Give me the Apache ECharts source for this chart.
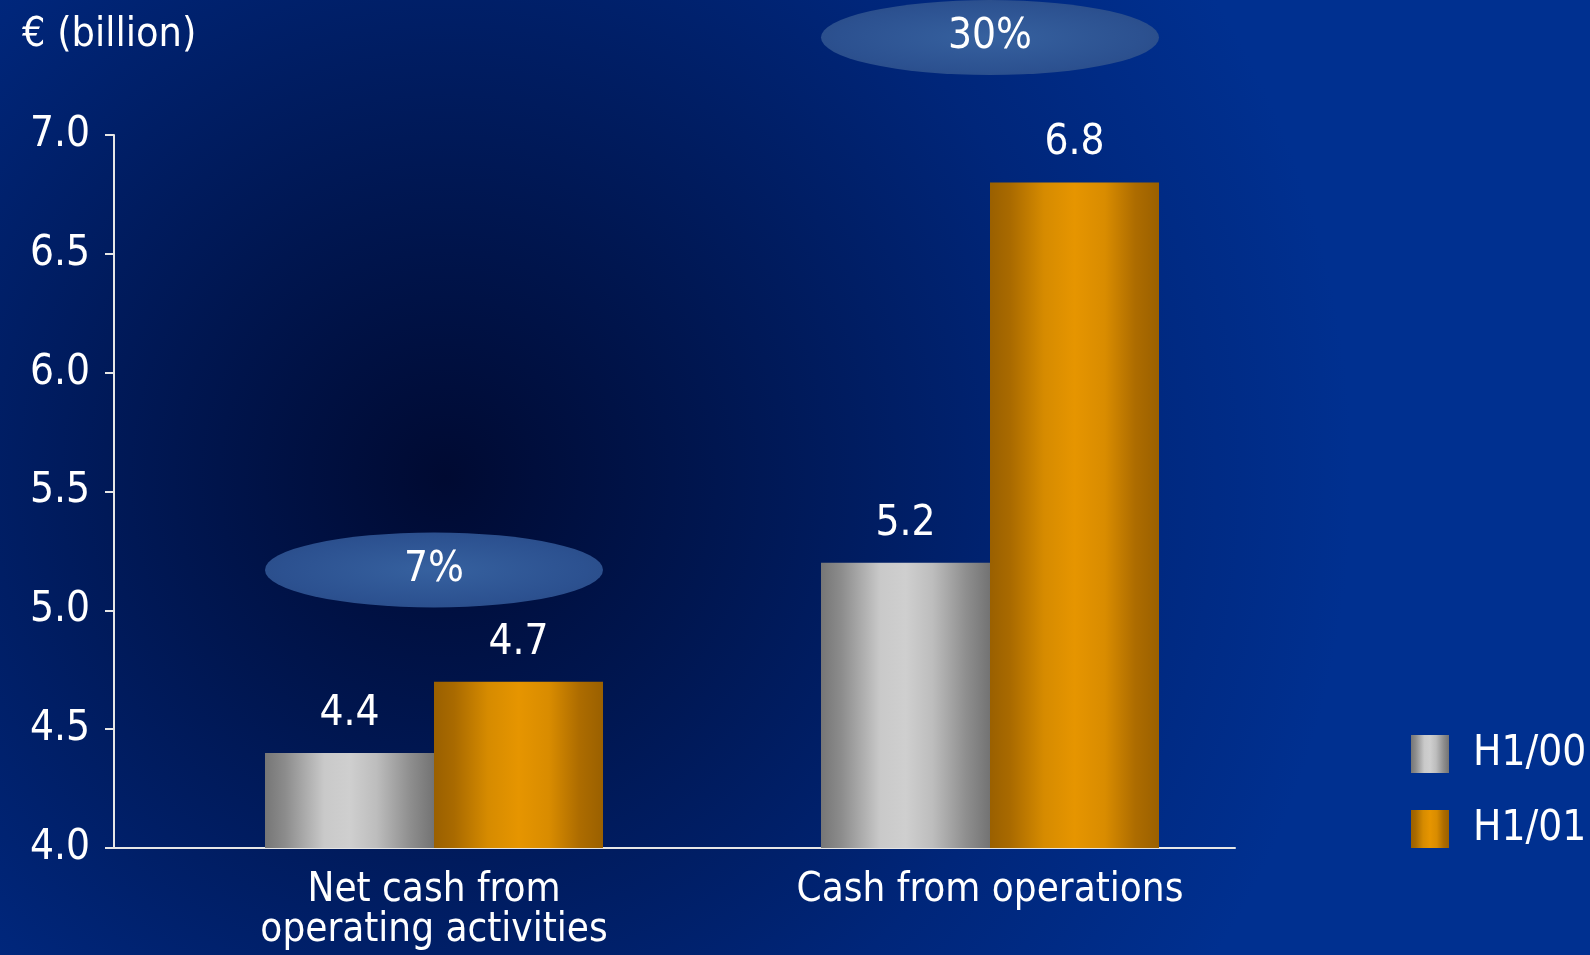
<!DOCTYPE html>
<html>
<head>
<meta charset="utf-8">
<style>
  html, body { margin: 0; padding: 0; }
  #main { width: 1590px; height: 955px; }
</style>
<script src="https://cdn.jsdelivr.net/npm/echarts@6/dist/echarts.min.js"></script>
</head>
<body>
<div id="main"></div>
<script>
  const categories = ['Net cash from\noperating activities', 'Cash from operations']
  const h100 = [4.4, 5.2]
  const h101 = [4.7, 6.8]
  const growth = ['7%', '30%']
  // level (in € billion) where the growth badge sits
  const growthLevel = [5.17, 7.41]

  const FONT = "'Liberation Sans Narrow', 'DejaVu Sans Condensed', Roboto, sans-serif"

  function hGrad(stops) {
    return {
      type: 'linear', x: 0, y: 0, x2: 1, y2: 0,
      colorStops: stops.map(s => ({ offset: s[0], color: s[1] }))
    }
  }

  const silver = hGrad([
    [0, '#767676'], [0.12, '#8c8c8c'], [0.35, '#c9c9c9'], [0.5, '#cfcfcf'],
    [0.66, '#bdbdbd'], [0.86, '#8e8e8e'], [1, '#737373']
  ])
  const orange = hGrad([
    [0, '#9a6000'], [0.12, '#a96a00'], [0.32, '#d68b00'], [0.5, '#e69500'],
    [0.68, '#d98c00'], [0.86, '#ad6c00'], [1, '#9a6000']
  ])

  let myChart = echarts.init(document.getElementById('main'))

  let option = {
    animation: false,
    backgroundColor: {
      type: 'radial', x: 0.28, y: 0.5, r: 0.95,
      colorStops: [
        { offset: 0, color: '#000a32' },
        { offset: 0.3, color: '#001650' },
        { offset: 0.7, color: '#00267a' },
        { offset: 1, color: '#003090' }
      ]
    },
    textStyle: { fontFamily: FONT },
    title: {
      text: '€ (billion)',
      left: 17,
      top: 10,
      textStyle: { color: '#ffffff', fontSize: 41, fontWeight: 'normal', fontFamily: FONT }
    },
    legend: {
      data: ['H1/00', 'H1/01'],
      orient: 'vertical',
      left: 1411,
      top: 733,
      padding: 0,
      itemWidth: 38,
      itemHeight: 38,
      itemGap: 33,
      icon: 'rect',
      textStyle: { color: '#ffffff', fontSize: 42, lineHeight: 38, fontFamily: FONT, padding: [0, 0, 0, 19] }
    },
    grid: [
      { left: 114, right: 355, top: 135, bottom: 107 },
      { left: 156, right: 322, top: 135, bottom: 107 }
    ],
    xAxis: [
      {
        gridIndex: 0,
        type: 'value',
        min: 0,
        max: 1,
        axisLine: { show: true, onZero: false, lineStyle: { color: '#e6e6e6', width: 2 } },
        axisTick: { show: false },
        axisLabel: { show: false },
        splitLine: { show: false }
      },
      {
        gridIndex: 1,
        type: 'category',
        data: categories,
        axisLine: { show: false },
        axisTick: { show: false },
        axisLabel: {
          color: '#ffffff',
          fontSize: 40,
          lineHeight: 40,
          margin: 23,
          fontFamily: FONT
        }
      }
    ],
    yAxis: [
      {
        gridIndex: 0,
        type: 'value',
        min: 4,
        max: 7,
        interval: 0.5,
        axisLine: { show: true, lineStyle: { color: '#e6e6e6', width: 2 } },
        axisTick: { show: true, length: 9, lineStyle: { color: '#e6e6e6', width: 2 } },
        axisLabel: {
          color: '#ffffff',
          fontSize: 42,
          margin: 24,
          fontFamily: FONT,
          formatter: v => v.toFixed(1)
        },
        splitLine: { show: false }
      },
      {
        gridIndex: 1,
        type: 'value',
        min: 4,
        max: 7,
        show: false
      }
    ],
    series: [
      {
        name: 'H1/00',
        type: 'bar',
        xAxisIndex: 1,
        yAxisIndex: 1,
        data: h100,
        barWidth: 169,
        barGap: '0%',
        itemStyle: { color: silver },
        label: {
          show: true,
          position: 'top',
          distance: 18,
          color: '#ffffff',
          fontSize: 42,
          fontFamily: FONT,
          formatter: p => p.value.toFixed(1)
        }
      },
      {
        name: 'H1/01',
        type: 'bar',
        xAxisIndex: 1,
        yAxisIndex: 1,
        data: h101,
        barWidth: 169,
        barGap: '0%',
        itemStyle: { color: orange },
        label: {
          show: true,
          position: 'top',
          distance: 18,
          color: '#ffffff',
          fontSize: 42,
          fontFamily: FONT,
          formatter: p => p.value.toFixed(1)
        }
      },
      {
        name: 'growth',
        type: 'scatter',
        xAxisIndex: 1,
        yAxisIndex: 1,
        clip: false,
        silent: true,
        symbol: 'circle',
        symbolSize: [338, 75],
        data: growthLevel.map((v, i) => ({ value: [i, v], label: { formatter: growth[i] } })),
        itemStyle: {
          opacity: 1,
          color: {
            type: 'radial', x: 0.5, y: 0.5, r: 1.5,
            colorStops: [
              { offset: 0, color: '#36619f' },
              { offset: 0.3, color: '#2c5190' },
              { offset: 0.65, color: '#223a6c' },
              { offset: 1, color: '#1d2c57' }
            ]
          }
        },
        label: {
          show: true,
          position: 'inside',
          color: '#ffffff',
          fontSize: 42,
          fontFamily: FONT
        }
      }
    ]
  }

  myChart.setOption(option)
</script>
</body>
</html>
